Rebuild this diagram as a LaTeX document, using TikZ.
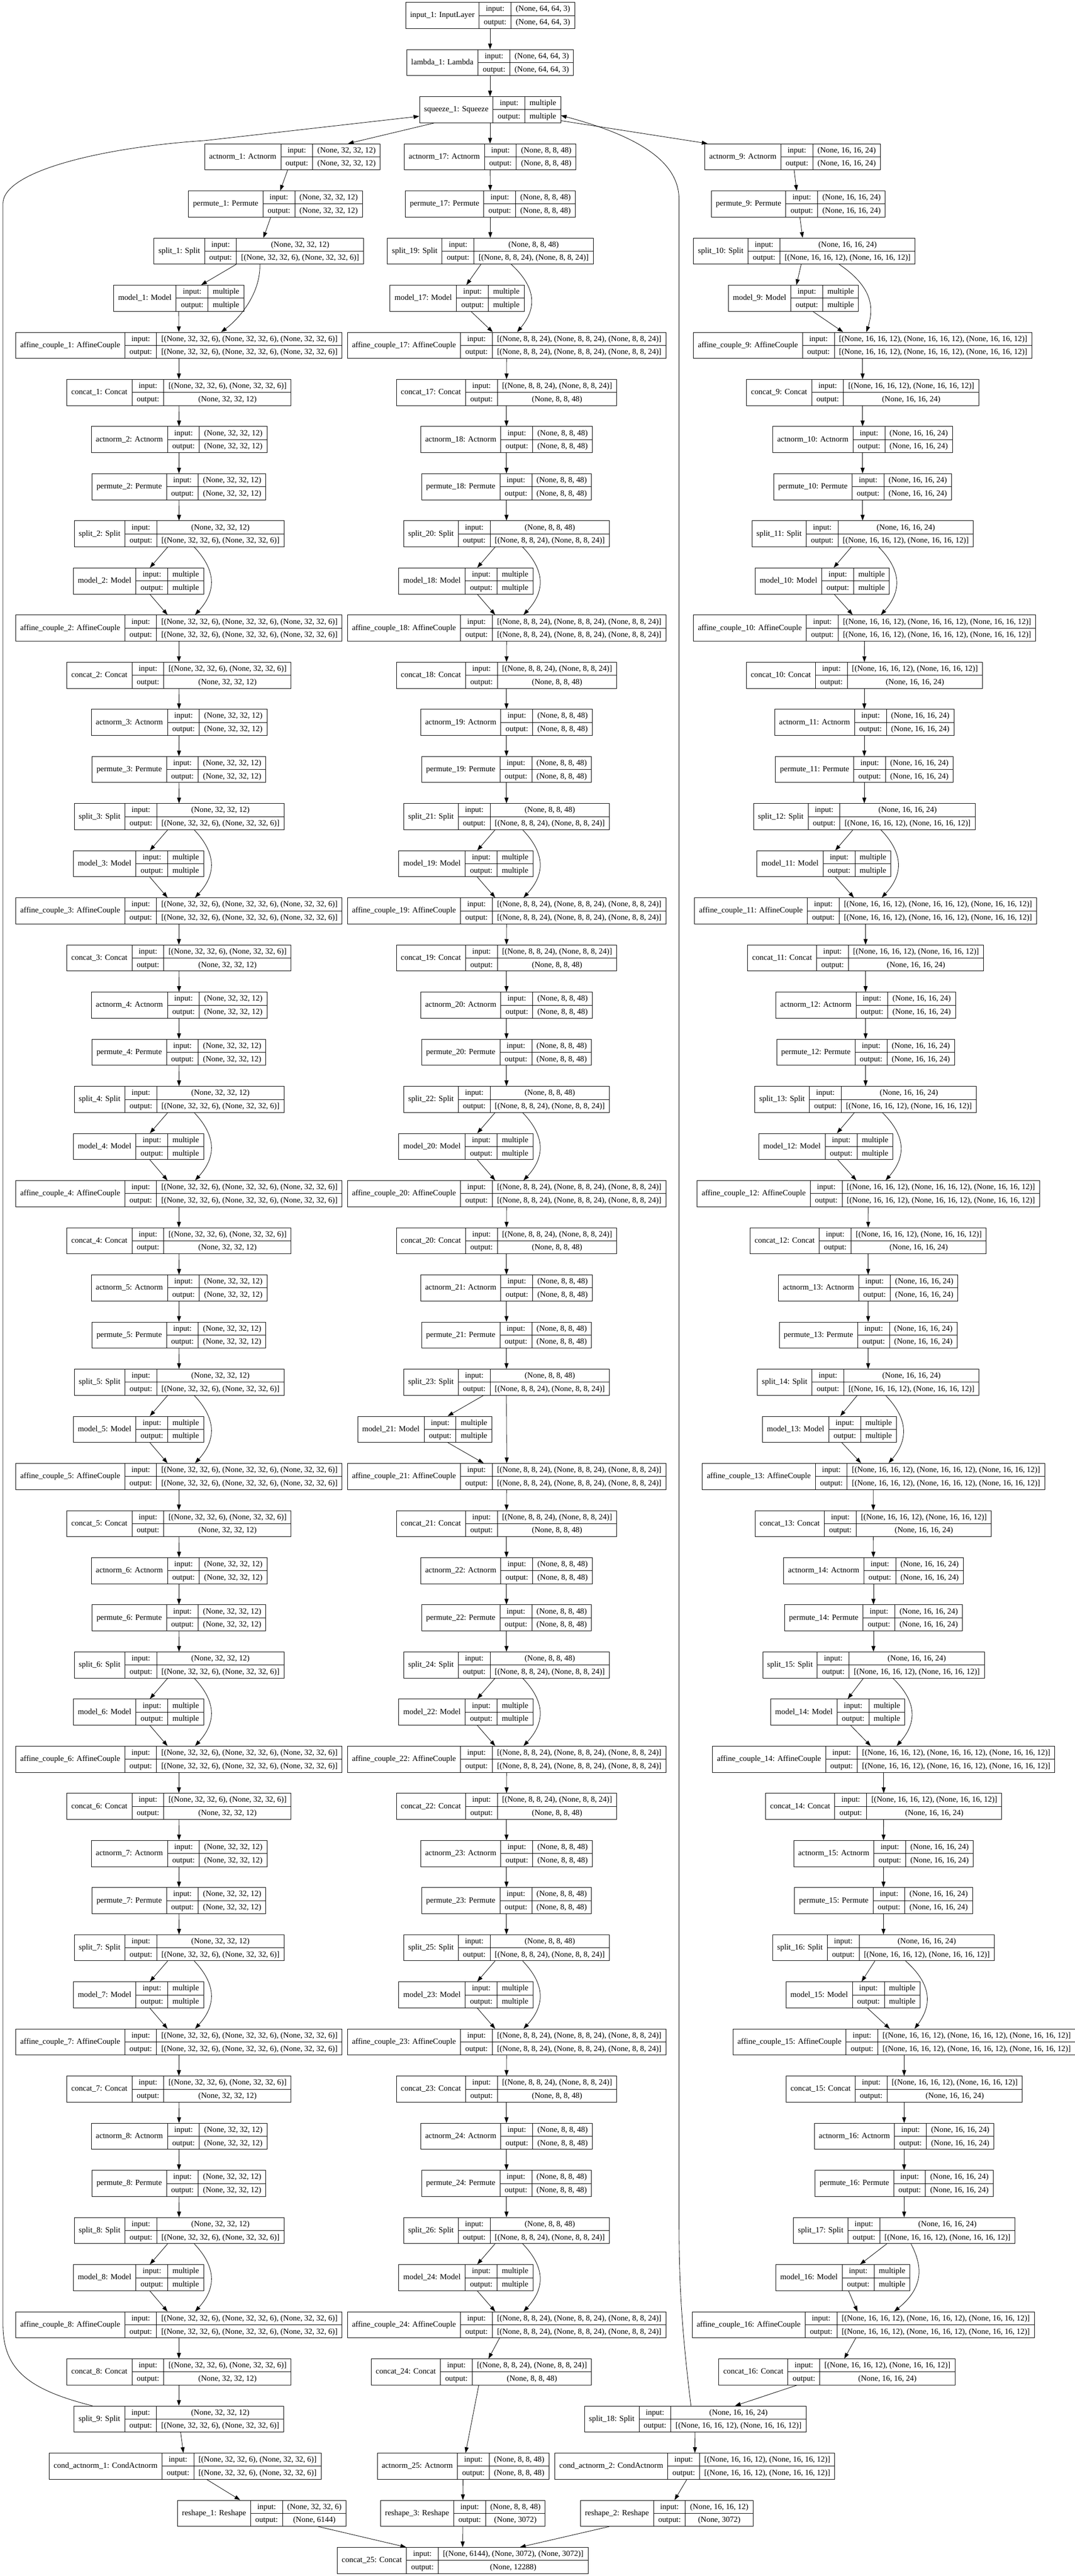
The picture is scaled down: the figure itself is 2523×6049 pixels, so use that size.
\documentclass[tikz,border=0pt]{standalone}
\usepackage{fontspec}
\setmainfont{Liberation Serif}
\usetikzlibrary{arrows.meta,calc}
\setlength{\arrayrulewidth}{0.75pt}
\newcommand{\rs}{\rule[-7pt]{0pt}{22.6pt}}
\newcommand{\layer}[3]{%
	\begin{tabular}{@{\hspace{8pt}}c@{\hspace{8pt}}|@{}c@{}|@{}c@{}}
		#1 &
		\begin{tabular}{@{\hspace{8pt}}c@{\hspace{8pt}}}\rs input:\\\hline\rs output:\end{tabular} &
		\begin{tabular}{@{\hspace{8pt}}c@{\hspace{8pt}}}\rs #2\\\hline\rs #3\end{tabular}
	\end{tabular}}
\newcommand{\ry}[1]{36.2+110.67*(#1)}
\newcommand{\vL}{(None, 32, 32, 12)}
\newcommand{\hL}{(None, 32, 32, 6)}
\newcommand{\vM}{(None, 8, 8, 48)}
\newcommand{\hM}{(None, 8, 8, 24)}
\newcommand{\vR}{(None, 16, 16, 24)}
\newcommand{\hR}{(None, 16, 16, 12)}
\begin{document}
\begin{tikzpicture}[x=0.75pt,y=-0.75pt,line width=0.75pt,>={Triangle[length=10pt,width=7pt]},
	rec/.style={draw,inner sep=0pt,font=\fontsize{14pt}{17pt}\selectfont}]
			\useasboundingbox (0,0) rectangle (2523,6049);
			\node[rec] (input1) at (1150.5,{\ry{0}}) {\layer{input\_1: InputLayer}{(None, 64, 64, 3)}{(None, 64, 64, 3)}};
			\node[rec] (lambda1) at (1150.5,{\ry{1}}) {\layer{lambda\_1: Lambda}{(None, 64, 64, 3)}{(None, 64, 64, 3)}};
			\node[rec] (squeeze1) at (1150.5,{\ry{2}}) {\layer{squeeze\_1: Squeeze}{multiple}{multiple}};
			\draw[->] (input1)--(lambda1);
			\draw[->] (lambda1)--(squeeze1);
			% first column
			\node[rec] (actnorm1) at (686.5,{\ry{3}}) {\layer{actnorm\_1: Actnorm}{\vL}{\vL}};
			\node[rec] (permute1) at (646.5,{\ry{4}}) {\layer{permute\_1: Permute}{\vL}{\vL}};
			\node[rec] (split1) at (607.5,{\ry{5}}) {\layer{split\_1: Split}{\vL}{[\hL, \hL]}};
			\node[rec] (model1) at (419.5,{\ry{6}}) {\layer{model\_1: Model}{multiple}{multiple}};
			\node[rec] (affine1) at (420,{\ry{7}}) {\layer{affine\_couple\_1: AffineCouple}{[\hL, \hL, \hL]}{[\hL, \hL, \hL]}};
			\node[rec] (concat1) at (420,{\ry{8}}) {\layer{concat\_1: Concat}{[\hL, \hL]}{\vL}};
			\draw[->] (squeeze1)--(actnorm1);
			\draw[->] (actnorm1)--(permute1);
			\draw[->] (permute1)--(split1);
			\draw[->] (split1)--(model1);
			\draw[->] (model1)--(affine1);
			\draw[->] ($(split1.south)+(2.5,0)$) .. controls ($(split1.south)+(4.5,70)$) and ($(affine1.north)+(140,-30)$) .. ($(affine1.north)+(99,0)$);
			\draw[->] (affine1)--(concat1);
			\foreach \k in {2,...,8}{
				\pgfmathtruncatemacro{\brow}{3+6*(\k-1)}
				\pgfmathtruncatemacro{\prv}{\k-1}
				\node[rec] (actnorm\k) at (420.5,{\ry{\brow}}) {\layer{actnorm\_\k: Actnorm}{\vL}{\vL}};
				\node[rec] (permute\k) at (420,{\ry{\brow+1}}) {\layer{permute\_\k: Permute}{\vL}{\vL}};
				\node[rec] (split\k) at (420.5,{\ry{\brow+2}}) {\layer{split\_\k: Split}{\vL}{[\hL, \hL]}};
				\node[rec] (model\k) at (325,{\ry{\brow+3}}) {\layer{model\_\k: Model}{multiple}{multiple}};
				\node[rec] (affine\k) at (420,{\ry{\brow+4}}) {\layer{affine\_couple\_\k: AffineCouple}{[\hL, \hL, \hL]}{[\hL, \hL, \hL]}};
				\node[rec] (concat\k) at (420,{\ry{\brow+5}}) {\layer{concat\_\k: Concat}{[\hL, \hL]}{\vL}};
				\draw[->] (concat\prv)--(actnorm\k);
				\draw[->] (actnorm\k)--(permute\k);
				\draw[->] (permute\k)--(split\k);
				\draw[->] (split\k)--(model\k);
				\draw[->] (model\k)--(affine\k);
				\draw[->] ($(split\k.south)+(35.5,0)$) .. controls ($(split\k.south)+(87.5,55)$) and ($(affine\k.north)+(88,-55)$) .. ($(affine\k.north)+(38,0)$);
				\draw[->] (affine\k)--(concat\k);
			}
			\node[rec] (split9) at (420,{\ry{51}}) {\layer{split\_9: Split}{\vL}{[\hL, \hL]}};
			\node[rec] (condact1) at (434.5,{\ry{52}}) {\layer{cond\_actnorm\_1: CondActnorm}{[\hL, \hL]}{[\hL, \hL]}};
			\node[rec] (reshape1) at (614.5,{\ry{53}}) {\layer{reshape\_1: Reshape}{\hL}{(None, 6144)}};
			\draw[->] (concat8)--(split9);
			\draw[->] (split9)--(condact1);
			\draw[->] (condact1)--(reshape1);
			% middle column
			\node[rec] (actnorm17) at (1150.5,{\ry{3}}) {\layer{actnorm\_17: Actnorm}{\vM}{\vM}};
			\node[rec] (permute17) at (1151,{\ry{4}}) {\layer{permute\_17: Permute}{\vM}{\vM}};
			\node[rec] (split19) at (1151,{\ry{5}}) {\layer{split\_19: Split}{\vM}{[\hM, \hM]}};
			\node[rec] (model17) at (1073,{\ry{6}}) {\layer{model\_17: Model}{multiple}{multiple}};
			\node[rec] (affine17) at (1189.5,{\ry{7}}) {\layer{affine\_couple\_17: AffineCouple}{[\hM, \hM, \hM]}{[\hM, \hM, \hM]}};
			\node[rec] (concat17) at (1189,{\ry{8}}) {\layer{concat\_17: Concat}{[\hM, \hM]}{\vM}};
			\draw[->] (squeeze1)--(actnorm17);
			\draw[->] (actnorm17)--(permute17);
			\draw[->] (permute17)--(split19);
			\draw[->] (split19)--(model17);
			\draw[->] (model17)--(affine17);
			\draw[->] ($(split19.south)+(49,0)$) .. controls ($(split19.south)+(109,55)$) and ($(affine17.north)+(70.5,-55)$) .. ($(affine17.north)+(24.5,0)$);
			\draw[->] (affine17)--(concat17);
			\foreach \k/\xm/\xcc/\offA/\offB/\ctlA/\ctlB in {18/1093.5/1189/38/39.5/91/90.5,19/1093.5/1189/38/39.5/91/90.5,20/1093.5/1189/38/39.5/91/90.5,21/997/1189/0/0/0/0,22/1093.5/1189/38/39.5/91/90.5,23/1093.5/1189/38/39.5/91/90.5,24/1093.5/1130/38/39.5/91/90.5}{
				\pgfmathtruncatemacro{\brow}{3+6*(\k-17)}
				\pgfmathtruncatemacro{\prv}{\k-1}
				\pgfmathtruncatemacro{\spl}{\k+2}
				\node[rec] (actnorm\k) at (1189,{\ry{\brow}}) {\layer{actnorm\_\k: Actnorm}{\vM}{\vM}};
				\node[rec] (permute\k) at (1189,{\ry{\brow+1}}) {\layer{permute\_\k: Permute}{\vM}{\vM}};
				\node[rec] (split\spl) at (1189,{\ry{\brow+2}}) {\layer{split\_\spl: Split}{\vM}{[\hM, \hM]}};
				\node[rec] (model\k) at (\xm,{\ry{\brow+3}}) {\layer{model\_\k: Model}{multiple}{multiple}};
				\node[rec] (affine\k) at (1189.5,{\ry{\brow+4}}) {\layer{affine\_couple\_\k: AffineCouple}{[\hM, \hM, \hM]}{[\hM, \hM, \hM]}};
				\node[rec] (concat\k) at (\xcc,{\ry{\brow+5}}) {\layer{concat\_\k: Concat}{[\hM, \hM]}{\vM}};
				\draw[->] (concat\prv)--(actnorm\k);
				\draw[->] (actnorm\k)--(permute\k);
				\draw[->] (permute\k)--(split\spl);
				\draw[->] (split\spl)--(model\k);
				\draw[->] (model\k)--(affine\k);
				\draw[->] ($(split\spl.south)+(\offA,0)$) .. controls ($(split\spl.south)+(\ctlA,55)$) and ($(affine\k.north)+(\ctlB,-55)$) .. ($(affine\k.north)+(\offB,0)$);
				\draw[->] (affine\k)--(concat\k);
			}
			\node[rec] (actnorm25) at (1087,{\ry{52}}) {\layer{actnorm\_25: Actnorm}{\vM}{\vM}};
			\node[rec] (reshape3) at (1086.5,{\ry{53}}) {\layer{reshape\_3: Reshape}{\vM}{(None, 3072)}};
			\draw[->] (concat24)--(actnorm25);
			\draw[->] (actnorm25)--(reshape3);
			% right column
			\node[rec] (actnorm9) at (1860.5,{\ry{3}}) {\layer{actnorm\_9: Actnorm}{\vR}{\vR}};
			\node[rec] (permute9) at (1874,{\ry{4}}) {\layer{permute\_9: Permute}{\vR}{\vR}};
			\node[rec] (split10) at (1888,{\ry{5}}) {\layer{split\_10: Split}{\vR}{[\hR, \hR]}};
			\node[rec] (model9) at (1862.5,{\ry{6}}) {\layer{model\_9: Model}{multiple}{multiple}};
			\node[rec] (affine9) at (2025,{\ry{7}}) {\layer{affine\_couple\_9: AffineCouple}{[\hR, \hR, \hR]}{[\hR, \hR, \hR]}};
			\node[rec] (concat9) at (2025,{\ry{8}}) {\layer{concat\_9: Concat}{[\hR, \hR]}{\vR}};
			\draw[->] (squeeze1)--(actnorm9);
			\draw[->] (actnorm9)--(permute9);
			\draw[->] (permute9)--(split10);
			\draw[->] (split10)--(model9);
			\draw[->] (model9)--(affine9);
			\draw[->] ($(split10.south)+(82,0)$) .. controls ($(split10.south)+(163,55)$) and ($(affine9.north)+(26,-55)$) .. ($(affine9.north)+(9,0)$);
			\draw[->] (affine9)--(concat9);
			\foreach \k/\xa/\xm/\xac/\xcc/\offA/\offB/\ctlA/\ctlB in {10/2025/1930.5/2029.5/2029/38/38.5/91.8/87.3,11/2029/1934/2032/2032/39/38/92/89,12/2032/1938.5/2038.5/2038/39.5/40.5/95.5/88.5,13/2038/1947/2050.5/2050/41/35.5/94.5/82,14/2050.5/1966.5/2074.5/2074.5/45.5/30.5/102.5/78.5,15/2074/2002.5/2122.5/2122.5/52/24.5/114/65.5,16/2122.5/1978.5/2026.5/1964.5/16/72.5/45/140.5}{
				\pgfmathtruncatemacro{\brow}{3+6*(\k-9)}
				\pgfmathtruncatemacro{\prv}{\k-1}
				\pgfmathtruncatemacro{\spl}{\k+1}
				\node[rec] (actnorm\k) at (\xa,{\ry{\brow}}) {\layer{actnorm\_\k: Actnorm}{\vR}{\vR}};
				\node[rec] (permute\k) at (\xa,{\ry{\brow+1}}) {\layer{permute\_\k: Permute}{\vR}{\vR}};
				\node[rec] (split\spl) at (\xa,{\ry{\brow+2}}) {\layer{split\_\spl: Split}{\vR}{[\hR, \hR]}};
				\node[rec] (model\k) at (\xm,{\ry{\brow+3}}) {\layer{model\_\k: Model}{multiple}{multiple}};
				\node[rec] (affine\k) at (\xac,{\ry{\brow+4}}) {\layer{affine\_couple\_\k: AffineCouple}{[\hR, \hR, \hR]}{[\hR, \hR, \hR]}};
				\node[rec] (concat\k) at (\xcc,{\ry{\brow+5}}) {\layer{concat\_\k: Concat}{[\hR, \hR]}{\vR}};
				\draw[->] (concat\prv)--(actnorm\k);
				\draw[->] (actnorm\k)--(permute\k);
				\draw[->] (permute\k)--(split\spl);
				\draw[->] (split\spl)--(model\k);
				\draw[->] (model\k)--(affine\k);
				\draw[->] ($(split\spl.south)+(\offA,0)$) .. controls ($(split\spl.south)+(\ctlA,55)$) and ($(affine\k.north)+(\ctlB,-55)$) .. ($(affine\k.north)+(\offB,0)$);
				\draw[->] (affine\k)--(concat\k);
			}
			\node[rec] (split18) at (1632,{\ry{51}}) {\layer{split\_18: Split}{\vR}{[\hR, \hR]}};
			\node[rec] (condact2) at (1631,{\ry{52}}) {\layer{cond\_actnorm\_2: CondActnorm}{[\hR, \hR]}{[\hR, \hR]}};
			\node[rec] (reshape2) at (1565,{\ry{53}}) {\layer{reshape\_2: Reshape}{\hR}{(None, 3072)}};
			\draw[->] (concat16)--(split18);
			\draw[->] (split18)--(condact2);
			\draw[->] (condact2)--(reshape2);
			% output
			\node[rec] (concat25) at (1086,{\ry{54}}) {\layer{concat\_25: Concat}{[(None, 6144), (None, 3072), (None, 3072)]}{(None, 12288)}};
			\draw[->] (reshape1)--(concat25);
			\draw[->] (reshape3)--(concat25);
			\draw[->] (reshape2)--(concat25);
			% loops back to squeeze
			\draw[->] ($(split9.north)+(-203,0)$) .. controls (60,5610) and (7,5560) .. (7,5458)--(7,478) .. controls (7,400) and (250,345) .. (482,330)--($(squeeze1.west)+(0,15.5)$);
			\draw[->] ($(split18.north)+(-10,0)$) .. controls (1598,5450) and (1594,5350) .. (1594,5200)--(1594,468) .. controls (1594,380) and (1500,320) .. ($(squeeze1.east)+(0,13.5)$);
		\end{tikzpicture}
\end{document}
